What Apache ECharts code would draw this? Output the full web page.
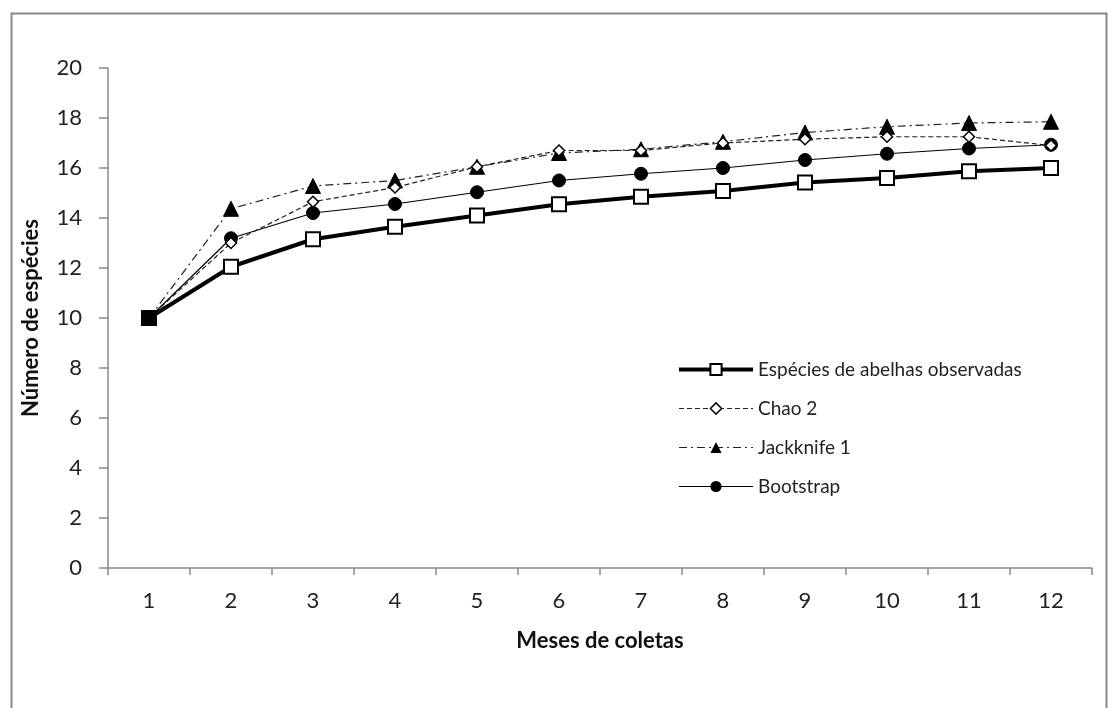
<!DOCTYPE html>
<html>
<head>
<meta charset="utf-8">
<script src="https://cdn.jsdelivr.net/npm/echarts@6/dist/echarts.min.js"></script>
<style>
html,body{margin:0;padding:0;background:#fff;}
#chart{width:1115px;height:708px;}
</style>
</head>
<body>
<div id="chart"></div>
<script>
const months = ['1','2','3','4','5','6','7','8','9','10','11','12'];
const observed = [10, 12.05, 13.15, 13.65, 14.1, 14.55, 14.85, 15.08, 15.42, 15.6, 15.87, 16.0];
const chao2 = [10, 13.0, 14.65, 15.22, 16.05, 16.7, 16.7, 17.0, 17.15, 17.25, 17.25, 16.9];
const jackknife1 = [10, 14.37, 15.28, 15.5, 16.05, 16.6, 16.75, 17.05, 17.42, 17.65, 17.8, 17.85];
const bootstrap = [10, 13.19, 14.2, 14.56, 15.03, 15.5, 15.77, 16.0, 16.32, 16.57, 16.78, 16.93];
const seriesNames = ['Espécies de abelhas observadas', 'Chao 2', 'Jackknife 1', 'Bootstrap'];
const yTicks = {min: 0, max: 20, interval: 2};

const FONT = 'Lato, "Noto Sans", sans-serif';
const styles = {
  obs: {line: {color: '#000', width: 4, type: 'solid'}, item: {color: '#fff', borderColor: '#000', borderWidth: 2}},
  chao: {line: {color: '#222', width: 1.2, type: [5, 3]}, item: {color: '#fff', borderColor: '#000', borderWidth: 1.5}},
  jack: {line: {color: '#222', width: 1.2, type: [8, 4, 2, 4]}, item: {color: '#000', borderColor: '#000'}},
  boot: {line: {color: '#000', width: 1.2, type: 'solid'}, item: {color: '#000', borderColor: '#000'}}
};
const observedData = observed.map((v, i) => i === 0 ? {value: v, itemStyle: {color: '#000'}} : v);

const chart = echarts.init(document.getElementById('chart'));
chart.setOption({
  backgroundColor: '#fff',
  animation: false,
  graphic: [{
    type: 'rect', left: 9, top: 11,
    shape: {width: 1095, height: 710},
    style: {fill: 'none', stroke: '#888', lineWidth: 2}
  }],
  grid: {left: 108, right: 23, top: 68, bottom: 140, containLabel: false},
  legend: {
    orient: 'vertical', left: 672, top: 355,
    itemWidth: 74, itemHeight: 14, itemGap: 20,
    textStyle: {fontFamily: FONT, fontSize: 19, color: '#222'},
    data: [
      {name: seriesNames[0], lineStyle: styles.obs.line, itemStyle: styles.obs.item},
      {name: seriesNames[1], lineStyle: styles.chao.line, itemStyle: styles.chao.item},
      {name: seriesNames[2], lineStyle: styles.jack.line, itemStyle: styles.jack.item},
      {name: seriesNames[3], lineStyle: styles.boot.line, itemStyle: styles.boot.item}
    ]
  },
  xAxis: {
    type: 'category', data: months, boundaryGap: true,
    name: 'Meses de coletas', nameLocation: 'middle', nameGap: 62,
    nameTextStyle: {fontFamily: FONT, fontSize: 22, fontWeight: 'bold', color: '#111'},
    axisLine: {lineStyle: {color: '#888', width: 1.5}},
    axisTick: {show: true, length: 7, lineStyle: {color: '#888', width: 1.5}},
    axisLabel: {fontFamily: FONT, fontSize: 22, color: '#222', margin: 22},
    splitLine: {show: false}
  },
  yAxis: {
    type: 'value', min: yTicks.min, max: yTicks.max, interval: yTicks.interval,
    name: 'Número de espécies', nameLocation: 'middle', nameGap: 66, nameRotate: 90,
    nameTextStyle: {fontFamily: FONT, fontSize: 22, fontWeight: 'bold', color: '#111'},
    axisLine: {show: true, lineStyle: {color: '#888', width: 1.5}},
    axisTick: {show: true, length: 9, lineStyle: {color: '#888', width: 1.5}},
    axisLabel: {fontFamily: FONT, fontSize: 22, color: '#222', margin: 26},
    splitLine: {show: false}
  },
  series: [
    {
      name: seriesNames[3], type: 'line', data: bootstrap, z: 3,
      symbol: 'circle', symbolSize: 13,
      itemStyle: styles.boot.item, lineStyle: styles.boot.line
    },
    {
      name: seriesNames[2], type: 'line', data: jackknife1, z: 4,
      symbol: 'triangle', symbolSize: 15,
      itemStyle: styles.jack.item, lineStyle: styles.jack.line
    },
    {
      name: seriesNames[1], type: 'line', data: chao2, z: 5,
      symbol: 'diamond', symbolSize: 11,
      itemStyle: styles.chao.item, lineStyle: styles.chao.line
    },
    {
      name: seriesNames[0], type: 'line', data: observedData, z: 6,
      symbol: 'rect', symbolSize: 14,
      itemStyle: styles.obs.item, lineStyle: styles.obs.line
    }
  ]
});
</script>
</body>
</html>
